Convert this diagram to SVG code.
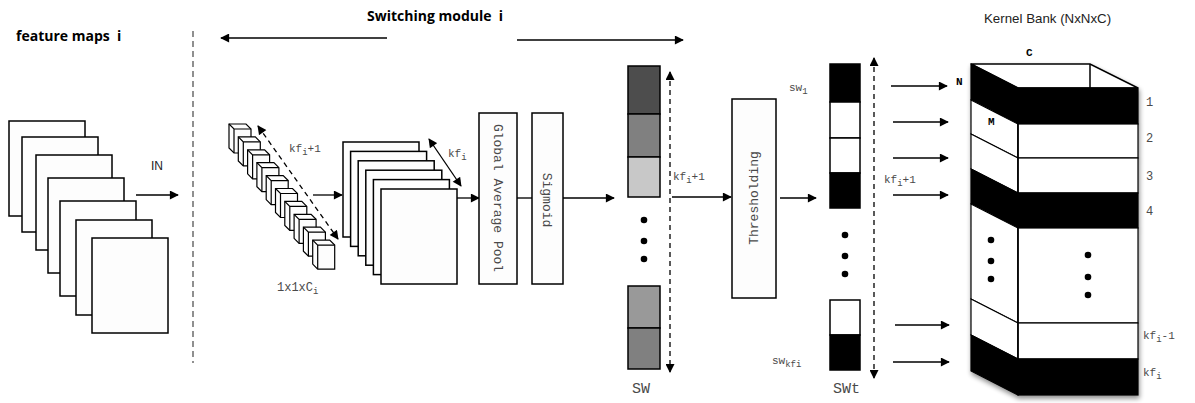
<svg xmlns="http://www.w3.org/2000/svg" width="1195" height="403" viewBox="0 0 1195 403">
<defs>
<marker id="ah" viewBox="0 0 10 10" refX="9" refY="5" markerWidth="10" markerHeight="9" markerUnits="userSpaceOnUse" orient="auto-start-reverse"><path d="M0,0 L10,5 L0,10 z" fill="#000"/></marker>
<filter id="sh" x="-10%" y="-10%" width="130%" height="130%"><feGaussianBlur in="SourceAlpha" stdDeviation="2.5"/><feOffset dx="1" dy="3"/><feComponentTransfer><feFuncA type="linear" slope="0.45"/></feComponentTransfer><feMerge><feMergeNode/><feMergeNode in="SourceGraphic"/></feMerge></filter>
</defs>
<style>
.bold{font-family:"Open Sans","Liberation Sans",sans-serif;font-weight:bold;font-size:14px;fill:#000;white-space:pre}
.sans{font-family:"Liberation Sans",Arial,sans-serif;font-size:12px;fill:#222}
.mono{font-family:"Liberation Mono","DejaVu Sans Mono",monospace;font-size:11px;fill:#4a4a4a}
.monob{font-family:"Liberation Mono","DejaVu Sans Mono",monospace;font-size:11px;font-weight:bold;fill:#000}
.sub{font-size:9px}
.fm{fill:#fdfdfd;stroke:#000;stroke-width:1.5}
.box{fill:#fdfdfd;stroke:#000;stroke-width:1.5}
.cell{stroke:#000;stroke-width:1.5}
.ln{stroke:#000;stroke-width:1.3;fill:none}
.dash{stroke:#000;stroke-width:1.3;fill:none;stroke-dasharray:5 4}
.dot{fill:#000}
.cube{fill:#fdfdfd;stroke:#000;stroke-width:1.2}
</style>
<rect width="1195" height="403" fill="#fff"/>

<g id="titles">
<text class="bold" x="16" y="41" xml:space="preserve">feature maps  i</text>
<text class="bold" x="367" y="21" xml:space="preserve">Switching module  i</text>
<text class="sans" x="984" y="23" style="font-size:13.3px">Kernel Bank (NxNxC)</text>
</g>

<g id="connectors">
<line class="dash" x1="193" y1="31" x2="193" y2="363" style="stroke:#555;stroke-dasharray:6 4"/>
<line class="ln" x1="387" y1="38" x2="221" y2="38" marker-end="url(#ah)"/>
<line class="ln" x1="517" y1="40" x2="683" y2="40" marker-end="url(#ah)"/>
<line class="ln" x1="136" y1="195" x2="178" y2="195" marker-end="url(#ah)"/>
<line class="dash" x1="258" y1="126" x2="338" y2="239" marker-start="url(#ah)" marker-end="url(#ah)"/>
<line class="ln" x1="313" y1="195" x2="342" y2="195" marker-end="url(#ah)"/>
<line class="ln" x1="429" y1="139" x2="461" y2="186" marker-start="url(#ah)" marker-end="url(#ah)"/>
<line class="ln" x1="457" y1="198" x2="479" y2="198" marker-end="url(#ah)"/>
<line class="ln" x1="517" y1="198" x2="532" y2="198" style="stroke:#555;stroke-width:2"/>
<line class="ln" x1="563" y1="198" x2="614" y2="198" marker-end="url(#ah)"/>
<line class="dash" x1="670" y1="72" x2="670" y2="372" marker-start="url(#ah)" marker-end="url(#ah)"/>
<line class="ln" x1="672" y1="197" x2="731" y2="197" marker-end="url(#ah)"/>
<line class="ln" x1="780" y1="198" x2="816" y2="198" marker-end="url(#ah)"/>
<line class="dash" x1="874" y1="58" x2="874" y2="378" marker-start="url(#ah)" marker-end="url(#ah)"/>
<line class="ln" x1="891" y1="86" x2="947" y2="86" marker-end="url(#ah)"/>
<line class="ln" x1="893" y1="122" x2="948" y2="122" marker-end="url(#ah)"/>
<line class="ln" x1="893" y1="158" x2="948" y2="158" marker-end="url(#ah)"/>
<line class="ln" x1="893" y1="195" x2="948" y2="195" marker-end="url(#ah)"/>
<line class="ln" x1="895" y1="325" x2="949" y2="325" marker-end="url(#ah)"/>
<line class="ln" x1="893" y1="362" x2="949" y2="362" marker-end="url(#ah)"/>
</g>

<g id="feature-maps">
<rect class="fm" x="9" y="121" width="76" height="95"/>
<rect class="fm" x="22" y="137" width="76" height="95"/>
<rect class="fm" x="36" y="155" width="76" height="95"/>
<rect class="fm" x="48" y="178" width="76" height="95"/>
<rect class="fm" x="60" y="201" width="76" height="95"/>
<rect class="fm" x="76" y="220" width="76" height="95"/>
<rect class="fm" x="92" y="238" width="76" height="95"/>
<text class="sans" x="151" y="170">IN</text>
</g>

<g id="kernels-1x1">
<defs><g id="cb"><path class="cube" d="M0,0 H17 L22,5 V29 H5 L0,24 Z"/><path class="cube" style="fill:none" d="M0,0 L5,5 H22 M5,5 V29"/></g></defs>
<use href="#cb" x="229" y="124"/>
<use href="#cb" x="238.3" y="136.9"/>
<use href="#cb" x="247.6" y="149.8"/>
<use href="#cb" x="256.9" y="162.7"/>
<use href="#cb" x="266.2" y="175.6"/>
<use href="#cb" x="275.5" y="188.5"/>
<use href="#cb" x="284.8" y="201.4"/>
<use href="#cb" x="294.1" y="214.3"/>
<use href="#cb" x="303.4" y="227.2"/>
<use href="#cb" x="312.7" y="240.1"/>
<text class="mono" x="289" y="152">kf<tspan class="sub" dy="3">i</tspan><tspan dy="-3">+1</tspan></text>
<text class="mono" x="277" y="291" style="font-size:12px">1x1xC<tspan class="sub" dy="3">i</tspan></text>
</g>

<g id="conv-maps">
<rect class="fm" x="343" y="142" width="76" height="95"/>
<rect class="fm" x="350.6" y="151.4" width="76" height="95"/>
<rect class="fm" x="358.2" y="160.8" width="76" height="95"/>
<rect class="fm" x="365.8" y="170.2" width="76" height="95"/>
<rect class="fm" x="373.4" y="179.6" width="76" height="95"/>
<rect class="fm" x="381" y="189" width="76" height="95"/>
<text class="mono" x="448" y="157">kf<tspan class="sub" dy="3">i</tspan></text>
</g>

<g id="gap">
<rect class="box" x="479" y="113" width="38" height="171"/>
<text class="mono" transform="translate(494,198) rotate(90)" text-anchor="middle" style="font-size:13px">Global Average Pool</text>
</g>

<g id="sigmoid">
<rect class="box" x="532" y="113" width="31" height="171"/>
<text class="mono" transform="translate(543,200) rotate(90)" text-anchor="middle" style="font-size:13px">Sigmoid</text>
</g>

<g id="sw">
<rect class="cell" x="628" y="66" width="32" height="48" fill="#4d4d4d"/>
<rect class="cell" x="628" y="114" width="32" height="43" fill="#808080"/>
<rect class="cell" x="628" y="157" width="32" height="40" fill="#c8c8c8"/>
<circle class="dot" cx="644" cy="220" r="3.3"/>
<circle class="dot" cx="644" cy="241" r="3.3"/>
<circle class="dot" cx="644" cy="259" r="3.3"/>
<rect class="cell" x="628" y="286" width="32" height="42" fill="#999"/>
<rect class="cell" x="628" y="328" width="32" height="41" fill="#808080"/>
<text class="mono" x="632" y="393" style="font-size:15px">SW</text>
<text class="mono" x="673" y="180">kf<tspan class="sub" dy="3">i</tspan><tspan dy="-3">+1</tspan></text>
</g>

<g id="thresholding">
<rect class="box" x="732" y="99" width="44" height="199"/>
<text class="mono" transform="translate(758,198) rotate(-90)" text-anchor="middle" style="font-size:13px">Thresholding</text>
</g>

<g id="swt">
<rect class="cell" x="830" y="64" width="30" height="38" fill="#000"/>
<rect class="cell" x="830" y="102" width="30" height="36" fill="#fff"/>
<rect class="cell" x="830" y="138" width="30" height="35" fill="#fff"/>
<rect class="cell" x="830" y="173" width="30" height="35" fill="#000"/>
<circle class="dot" cx="845" cy="235" r="3.3"/>
<circle class="dot" cx="845" cy="256" r="3.3"/>
<circle class="dot" cx="845" cy="274" r="3.3"/>
<rect class="cell" x="830" y="300" width="30" height="35" fill="#fff"/>
<rect class="cell" x="830" y="335" width="30" height="35" fill="#000"/>
<text class="mono" x="789" y="91">sw<tspan class="sub" dy="3">1</tspan></text>
<text class="mono" x="772" y="364">sw<tspan class="sub" dy="3">kfi</tspan></text>
<text class="mono" x="833" y="393" style="font-size:15px">SWt</text>
<text class="mono" x="884" y="183">kf<tspan class="sub" dy="3">i</tspan><tspan dy="-3">+1</tspan></text>
</g>

<g id="kernel-bank">
<g filter="url(#sh)">
<polygon points="971,64 1090,64 1138,88 1018,88" fill="#fff" stroke="#000" stroke-width="1.5"/>
<polygon points="971,64 1018,88 1018,124 971,100" fill="#000" stroke="#000" stroke-width="1.2"/>
<polygon points="971,100 1018,124 1018,158 971,134" fill="#fff" stroke="#000" stroke-width="1.2"/>
<polygon points="971,134 1018,158 1018,193 971,169" fill="#fff" stroke="#000" stroke-width="1.2"/>
<polygon points="971,169 1018,193 1018,228 971,204" fill="#000" stroke="#000" stroke-width="1.2"/>
<polygon points="971,204 1018,228 1018,323 971,299" fill="#fff" stroke="#000" stroke-width="1.2"/>
<polygon points="971,299 1018,323 1018,359 971,335" fill="#fff" stroke="#000" stroke-width="1.2"/>
<polygon points="971,335 1018,359 1018,395 971,371" fill="#000" stroke="#000" stroke-width="1.2"/>
<rect x="1018" y="88" width="120" height="36" fill="#000" stroke="#000" stroke-width="1.2"/>
<rect x="1018" y="124" width="120" height="34" fill="#fff" stroke="#000" stroke-width="1.2"/>
<rect x="1018" y="158" width="120" height="35" fill="#fff" stroke="#000" stroke-width="1.2"/>
<rect x="1018" y="193" width="120" height="35" fill="#000" stroke="#000" stroke-width="1.2"/>
<rect x="1018" y="228" width="120" height="95" fill="#fff" stroke="#000" stroke-width="1.2"/>
<rect x="1018" y="323" width="120" height="36" fill="#fff" stroke="#000" stroke-width="1.2"/>
<rect x="1018" y="359" width="120" height="36" fill="#000" stroke="#000" stroke-width="1.2"/>
</g>
<line x1="1090" y1="64" x2="1090" y2="88" stroke="#000" stroke-width="1.5"/>
<line x1="1018" y1="88" x2="1018" y2="395" stroke="#000" stroke-width="1.5"/>
<circle class="dot" cx="991" cy="240" r="3.3"/>
<circle class="dot" cx="991" cy="261" r="3.3"/>
<circle class="dot" cx="991" cy="279" r="3.3"/>
<circle class="dot" cx="1088" cy="255" r="3.3"/>
<circle class="dot" cx="1088" cy="277" r="3.3"/>
<circle class="dot" cx="1088" cy="295" r="3.3"/>
<text class="monob" x="1026" y="56">C</text>
<text class="monob" x="956" y="85">N</text>
<text class="monob" x="988" y="125">M</text>
<text class="mono" x="1146" y="106" style="font-size:12px">1</text>
<text class="mono" x="1146" y="142" style="font-size:12px">2</text>
<text class="mono" x="1146" y="180" style="font-size:12px">3</text>
<text class="mono" x="1146" y="215" style="font-size:12px">4</text>
<text class="mono" x="1143" y="339">kf<tspan class="sub" dy="3">i</tspan><tspan dy="-3">-1</tspan></text>
<text class="mono" x="1143" y="376">kf<tspan class="sub" dy="3">i</tspan></text>
</g>
</svg>
